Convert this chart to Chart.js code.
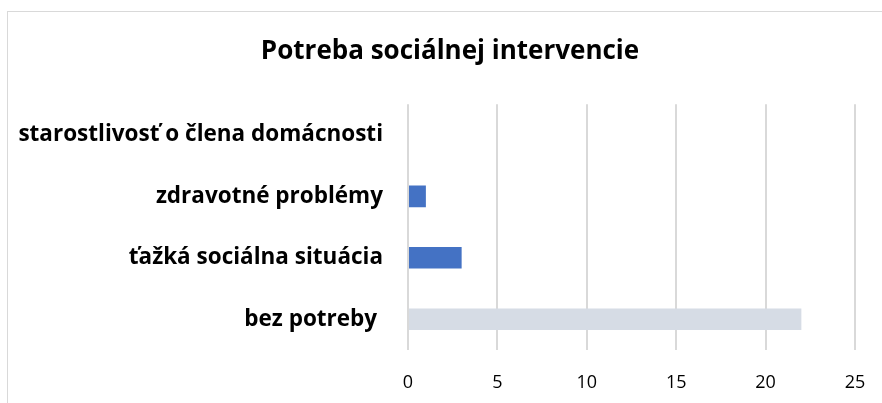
<!DOCTYPE html>
<html>
<head>
<meta charset="utf-8">
<script src="https://cdn.jsdelivr.net/npm/chart.js@4"></script>
<style>
  body { margin: 0; overflow: hidden; background: #fff; }
  #ram { position: absolute; left: 7px; top: 11px; width: 900px; height: 450px; border: 1px solid #d9d9d9; }
  #graf { position: absolute; left: 0; top: 0; }
</style>
</head>
<body>
<div id="ram"></div>
<canvas id="graf" width="882" height="403"></canvas>
<script>
// kategórie a hodnoty
const kategorie = ["starostlivosť o člena domácnosti", "zdravotné problémy", "ťažká sociálna situácia", "bez potreby "];
const hodnoty = [0, 1, 3, 22];
const farby = ["#4472c4", "#4472c4", "#4472c4", "#d6dce5"];

const pismo = "'Open Sans', sans-serif";

new Chart(document.getElementById("graf"), {
    type: "bar",
    data: {
        labels: kategorie,
        datasets: [{
            data: hodnoty,
            backgroundColor: farby,
            barPercentage: 0.7,
            categoryPercentage: 0.5
        }]
    },
    options: {
        indexAxis: "y",
        responsive: false,
        animation: false,
        layout: { padding: { top: 36, right: -13, bottom: 11, left: 5 } },
        plugins: {
            legend: { display: false },
            tooltip: { enabled: false },
            title: {
                display: true,
                text: "Potreba sociálnej intervencie",
                color: "#000",
                font: { family: pismo, size: 26, weight: "bold" },
                padding: { top: 0, bottom: 37 }
            }
        },
        scales: {
            x: {
                min: 0,
                max: 25,
                ticks: { stepSize: 5, color: "#000", padding: 22, font: { family: pismo, size: 18 } },
                grid: { color: "#d9d9d9", lineWidth: 2, drawTicks: false },
                border: { display: false },
                afterFit: function (skala) { skala.height = 42; skala.paddingRight = 27; }
            },
            y: {
                ticks: { color: "#000", padding: 17, font: { family: pismo, size: 22.5, weight: "bold" } },
                grid: { display: false },
                border: { display: false },
                afterFit: function (skala) { skala.width = 403; }
            }
        }
    }
});
</script>
</body>
</html>
